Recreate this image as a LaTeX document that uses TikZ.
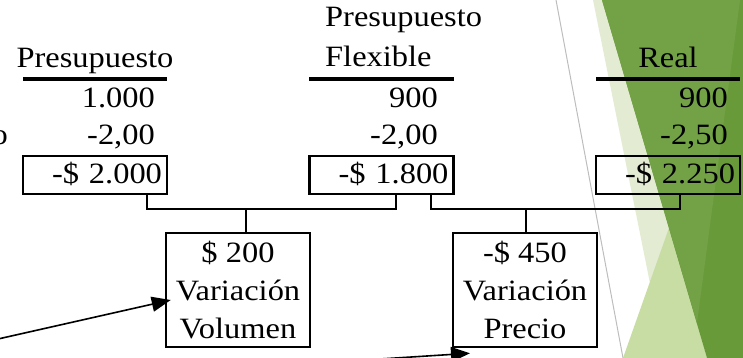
\documentclass[tikz,border=0pt]{standalone}
\usepackage{fontspec}
\setmainfont{Liberation Serif}[FakeStretch=1.1]
\usetikzlibrary{arrows.meta}
\definecolor{gpale}{HTML}{E3EBD3}
\definecolor{glight}{HTML}{C8DDA4}
\definecolor{gdark}{HTML}{689A39}
\definecolor{gmed}{HTML}{72A146}
\definecolor{gline}{HTML}{BDBDBD}
\tikzset{
  valbox/.style={draw, line width=2.5pt, minimum width=144pt, minimum height=38pt,
    inner xsep=5pt, inner ysep=0pt, text width=134pt, align=right,
    text height=21pt, text depth=5pt},
  num/.style={anchor=base east, inner sep=0pt},
  head/.style={anchor=base, inner sep=0pt},
  rulebar/.style={line width=3.5pt},
  varbox/.style={draw, line width=2.5pt, minimum width=144pt, minimum height=114pt,
    align=center, inner sep=0pt},
  link/.style={line width=1.4pt},
  arr/.style={line width=1.6pt, -{Triangle[length=19pt,width=15pt]}}
}
\begin{document}
\begin{tikzpicture}[x=1pt,y=-1pt,font=\fontsize{29.5}{38}\selectfont]
\useasboundingbox (0,0) rectangle (743,358);
% background decoration
\fill[gpale] (593,0) -- (602,0) -- (707,358) -- (665,358) -- cycle;
\fill[glight] (670,225) -- (707,358) -- (623,358) -- cycle;
\fill[gdark] (602,0) -- (743,0) -- (743,358) -- (707,358) -- cycle;
\fill[gmed] (602,0) -- (740,0) -- (697,323) -- cycle;
\draw[gline, line width=1pt] (556,0) -- (623,358);

% headers
\node[head] (h1) at (95,68) {Presupuesto};
\node[anchor=north west, inner sep=0pt, align=left] (h2) at (325,7) {Presupuesto\\[2pt]Flexible};
\node[head] (h3) at (668,68) {Real};
\draw[rulebar] (23,79) -- (167,79);
\draw[rulebar] (309,79) -- (454,79);
\draw[rulebar] (596,79) -- (740,79);

% cut-off label on the left
\node[anchor=base east, inner sep=0pt] (lo) at (8,145) {o};

% column 1
\node[num] (q1) at (155,108) {1.000};
\node[num] (p1) at (155,145) {-2,00};
\node[valbox] (t1) at (95,175) {-\$ 2.000};
% column 2
\node[num] (q2) at (438,108) {900};
\node[num] (p2) at (438,145) {-2,00};
\node[valbox] (t2) at (381.5,175) {-\$ 1.800};
% column 3
\node[num] (q3) at (728,108) {900};
\node[num] (p3) at (728,145) {-2,50};
\node[valbox] (t3) at (668,175) {-\$ 2.250};

% variance boxes
\node[varbox] (vA) at (238,290) {\$ 200\\Variación\\Volumen};
\node[varbox] (vB) at (525,290) {-\$ 450\\Variación\\Precio};

% brackets
\coordinate (c1) at (147,209);
\coordinate (c2) at (396,209);
\coordinate (j1) at (246,209);
\coordinate (c3) at (431,209);
\coordinate (c4) at (680,209);
\coordinate (j2) at (526,209);
\draw[link] (t1.south -| c1) -- (c1) -- (c2) -- (t2.south -| c2);
\draw[link] (j1) -- (vA.north -| j1);
\draw[link] (t2.south -| c3) -- (c3) -- (c4) -- (t3.south -| c4);
\draw[link] (j2) -- (vB.north -| j2);

% arrows
\coordinate (s1) at (-2,339);
\coordinate (s2) at (380,359);
\draw[arr] (s1) -- ([shift={(6,10)}]vA.west);
\draw[arr] (s2) -- ([shift={(-55,5)}]vB.south);
\end{tikzpicture}
\end{document}
